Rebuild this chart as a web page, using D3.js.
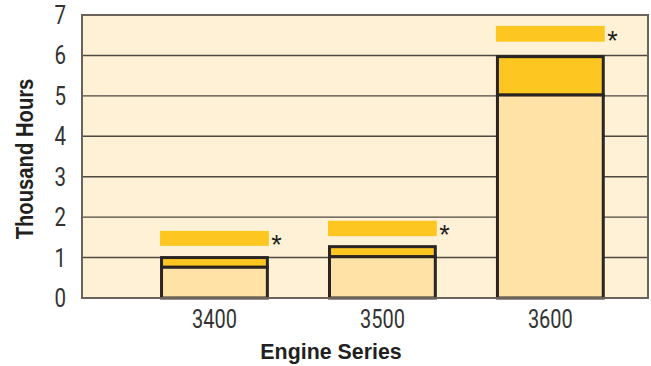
<!DOCTYPE html>
<html>
<head>
<meta charset="utf-8">
<script src="https://cdn.jsdelivr.net/npm/d3@7"></script>
<style>
    body { margin: 0; background: #fff; }
    svg { display: block; }
    .tick-label { font-family: Roboto, "Liberation Sans", sans-serif; font-weight: 400; font-size: 25px; fill: #333; }
    .axis-label { font-family: "Liberation Sans", sans-serif; font-size: 23px; font-weight: bold; fill: #231f20; }
</style>
</head>
<body>
<div id="chart"></div>
<script>
// Engine series along the bottom
const categories = ['3400', '3500', '3600'];
// Light lower part of each bar (thousand hours)
const baseValues = [0.76, 1.02, 5.02];
// Full height of each bar, the gold cap sits between base and top
const topValues = [1.0, 1.27, 5.97];
// Floating gold bar marked with an asterisk: low and high end
const starLow = [1.29, 1.53, 6.34];
const starHigh = [1.66, 1.91, 6.73];
const yTicks = [0, 1, 2, 3, 4, 5, 6, 7];

class RangeBars {

    /**
    * Basic chart setup
    * @param {String} _parent
    * @param {Object} _margin
    */
    constructor(_parent, _margin) {
        this.width = 651;
        this.height = 366;
        this.margin = _margin;
        this.innerWidth = this.width - this.margin.left - this.margin.right;
        this.innerHeight = this.height - this.margin.top - this.margin.bottom;

        this.svg = d3.select(_parent).append('svg')
            .attr('width', this.width)
            .attr('height', this.height);

        this.chart = this.svg.append('g')
            .attr('transform', `translate(${this.margin.left},${this.margin.top})`);

        this.populate();
    }

    populate() {
        const rows = categories.map((c, i) => ({
            cat: c, base: baseValues[i], top: topValues[i], lo: starLow[i], hi: starHigh[i]
        }));

        const xScale = d3.scaleBand()
            .domain(categories)
            .range([0, this.innerWidth])
            .paddingInner(0.37)
            .paddingOuter(0.37)
            .align(0.64);

        const yScale = d3.scaleLinear()
            .domain([0, 7])
            .range([this.innerHeight, 0]);

        // condensed look: squeeze text horizontally
        const squeeze = (x, y, k, rot = 0) => `translate(${x},${y}) rotate(${rot}) scale(${k},1)`;

        // plot background
        this.chart.append('rect')
            .attr('width', this.innerWidth)
            .attr('height', this.innerHeight)
            .attr('fill', '#fff1d5');

        // horizontal gridlines
        this.chart.selectAll('.grid').data(yTicks.slice(1, -1)).join('line')
            .attr('class', 'grid')
            .attr('x1', 0).attr('x2', this.innerWidth)
            .attr('y1', d => yScale(d)).attr('y2', d => yScale(d))
            .attr('stroke', '#4f4843')
            .attr('stroke-width', 1.4);

        const bw = xScale.bandwidth();

        // floating bars with asterisk
        this.chart.selectAll('.star-bar').data(rows).join('rect')
            .attr('class', 'star-bar')
            .attr('x', d => xScale(d.cat) - 1.5)
            .attr('width', bw + 3)
            .attr('y', d => yScale(d.hi))
            .attr('height', d => yScale(d.lo) - yScale(d.hi))
            .attr('fill', '#fec620');

        this.chart.selectAll('.star').data(rows).join('text')
            .attr('class', 'star')
            .attr('x', d => xScale(d.cat) + bw + 4)
            .attr('y', d => (yScale(d.lo) + yScale(d.hi)) / 2 + 16)
            .attr('font-family', 'Liberation Sans, sans-serif')
            .attr('font-size', 27)
            .attr('fill', '#231f20')
            .text('*');

        // gold cap then light base, both outlined
        this.chart.selectAll('.cap').data(rows).join('rect')
            .attr('class', 'cap')
            .attr('x', d => xScale(d.cat))
            .attr('width', bw)
            .attr('y', d => yScale(d.top))
            .attr('height', d => yScale(d.base) - yScale(d.top))
            .attr('fill', '#fec620')
            .attr('stroke', '#2a2422')
            .attr('stroke-width', 3);

        this.chart.selectAll('.base').data(rows).join('rect')
            .attr('class', 'base')
            .attr('x', d => xScale(d.cat))
            .attr('width', bw)
            .attr('y', d => yScale(d.base))
            .attr('height', d => yScale(0) - yScale(d.base))
            .attr('fill', '#ffe3a6')
            .attr('stroke', '#2a2422')
            .attr('stroke-width', 3);

        // frame
        this.chart.append('rect')
            .attr('width', this.innerWidth)
            .attr('height', this.innerHeight)
            .attr('fill', 'none')
            .attr('stroke', '#6b625b')
            .attr('stroke-width', 2);

        // y tick labels
        this.chart.selectAll('.y-tick').data(yTicks).join('text')
            .attr('class', 'tick-label y-tick')
            .attr('transform', d => squeeze(-16, yScale(d) + 9, 0.82))
            .attr('text-anchor', 'end')
            .text(d => d);

        // x tick labels
        this.chart.selectAll('.x-tick').data(categories).join('text')
            .attr('class', 'tick-label x-tick')
            .attr('transform', d => squeeze(xScale(d) + bw / 2, this.innerHeight + 30, 0.8))
            .attr('text-anchor', 'middle')
            .text(d => d);

        // axis titles
        this.chart.append('text')
            .attr('class', 'axis-label')
            .attr('transform', squeeze(249, this.innerHeight + 61, 0.93))
            .attr('text-anchor', 'middle')
            .text('Engine Series');

        this.chart.append('text')
            .attr('class', 'axis-label')
            .attr('transform', squeeze(-49, 144, 0.88, -90))
            .attr('text-anchor', 'middle')
            .text('Thousand Hours');
    }
}

new RangeBars('#chart', {top: 15, right: 3, bottom: 68, left: 82});
</script>
</body>
</html>
